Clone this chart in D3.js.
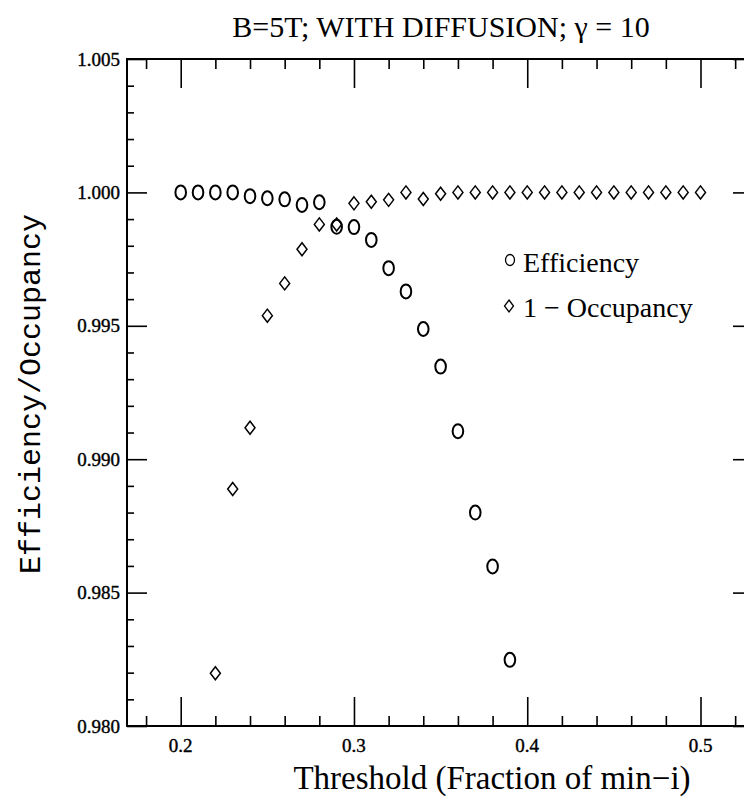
<!DOCTYPE html>
<html>
<head>
<meta charset="utf-8">
<script src="https://cdn.jsdelivr.net/npm/d3@7"></script>
<style>
  body { margin: 0; background: #fff; }
  svg { display: block; }
</style>
</head>
<body>
<div id="chart"></div>
<script>
// threshold steps (fraction of min-i)
const thresholds = [0.20, 0.21, 0.22, 0.23, 0.24, 0.25, 0.26, 0.27, 0.28, 0.29,
  0.30, 0.31, 0.32, 0.33, 0.34, 0.35, 0.36, 0.37, 0.38, 0.39,
  0.40, 0.41, 0.42, 0.43, 0.44, 0.45, 0.46, 0.47, 0.48, 0.49, 0.50]

// efficiency, measured from 0.20 to 0.39
const efficiency = [1.0000, 1.0000, 1.0000, 1.0000, 0.99986, 0.99978, 0.99974, 0.99953, 0.99963, 0.99871,
  0.99870, 0.99822, 0.99716, 0.99629, 0.99488, 0.99347, 0.99105, 0.98800, 0.98598, 0.98248]

// 1 - occupancy, measured from 0.22 to 0.50
const oneMinusOcc = [0.98198, 0.98888, 0.99118, 0.99538, 0.99659, 0.99787, 0.99880, 0.99880,
  0.99959, 0.99965, 0.99972, 1.0000, 0.99975, 0.99995, 1.0000, 1.0000, 1.0000, 1.0000, 1.0000,
  1.0000, 1.0000, 1.0000, 1.0000, 1.0000, 1.0000, 1.0000, 1.0000, 1.0000, 1.0000]

const xTickValues = [0.2, 0.3, 0.4, 0.5]
const yTickValues = [0.980, 0.985, 0.990, 0.995, 1.000, 1.005]

const title = 'B=5T; WITH DIFFUSION; \u03b3 = 10'
const xLabel = 'Threshold (Fraction of min\u2212i)'
const yLabel = 'Efficiency/Occupancy'
const legendNames = ['Efficiency', '1 \u2212 Occupancy']

const width = 744
const height = 804
const plot = { left: 127, right: 753, top: 59, bottom: 726 }

const svg = d3
  .select('#chart')
  .append('svg')
  .attr('width', width)
  .attr('height', height)

const xScale = d3.scaleLinear().domain([0.169, 0.5303]).range([plot.left, plot.right])
const yScale = d3.scaleLinear().domain([0.980, 1.005]).range([plot.bottom, plot.top])

const xMinor = d3.range(0.18, 0.53, 0.02).filter(v => Math.abs(v * 10 - Math.round(v * 10)) > 0.01)
const yMinor = d3.range(0.980, 1.005, 0.001).filter(v => Math.abs(v * 200 - Math.round(v * 200)) > 0.01)

function tickStyle(g) {
  g.select('.domain').remove()
  g.selectAll('line').attr('stroke', '#000').attr('stroke-width', 1.6)
  g.selectAll('text').remove()
}

// bottom + top ticks, pointing inside
svg.append('g').attr('transform', `translate(0,${plot.bottom})`)
  .call(d3.axisBottom(xScale).tickValues(xTickValues).tickSize(-29)).call(tickStyle)
svg.append('g').attr('transform', `translate(0,${plot.bottom})`)
  .call(d3.axisBottom(xScale).tickValues(xMinor).tickSize(-10)).call(tickStyle)
svg.append('g').attr('transform', `translate(0,${plot.top})`)
  .call(d3.axisTop(xScale).tickValues(xTickValues).tickSize(-29)).call(tickStyle)
svg.append('g').attr('transform', `translate(0,${plot.top})`)
  .call(d3.axisTop(xScale).tickValues(xMinor).tickSize(-10)).call(tickStyle)

// left + right ticks
svg.append('g').attr('transform', `translate(${plot.left},0)`)
  .call(d3.axisLeft(yScale).tickValues(yTickValues).tickSize(-20)).call(tickStyle)
svg.append('g').attr('transform', `translate(${plot.left},0)`)
  .call(d3.axisLeft(yScale).tickValues(yMinor).tickSize(-7)).call(tickStyle)
svg.append('g').attr('transform', `translate(${plot.right},0)`)
  .call(d3.axisRight(yScale).tickValues(yTickValues).tickSize(-20)).call(tickStyle)
svg.append('g').attr('transform', `translate(${plot.right},0)`)
  .call(d3.axisRight(yScale).tickValues(yMinor).tickSize(-7)).call(tickStyle)

// frame
svg.append('rect')
  .attr('x', plot.left)
  .attr('y', plot.top)
  .attr('width', plot.right - plot.left)
  .attr('height', plot.bottom - plot.top)
  .attr('fill', 'none')
  .attr('stroke', '#000')
  .attr('stroke-width', 2)

// tick labels
svg.selectAll('.x-label')
  .data(xTickValues)
  .enter()
  .append('text')
  .attr('x', d => xScale(d))
  .attr('y', 752)
  .attr('text-anchor', 'middle')
  .style('font-family', 'Liberation Serif')
  .style('font-size', '19px')
  .attr('stroke', '#000')
  .attr('stroke-width', 0.4)
  .text(d => d3.format('.1f')(d))

svg.selectAll('.y-label')
  .data(yTickValues)
  .enter()
  .append('text')
  .attr('x', 120)
  .attr('y', d => yScale(d))
  .attr('dy', '0.35em')
  .attr('text-anchor', 'end')
  .style('font-family', 'Liberation Serif')
  .style('font-size', '19px')
  .attr('stroke', '#000')
  .attr('stroke-width', 0.4)
  .text(d => d3.format('.3f')(d))

// titles
svg.append('text')
  .attr('x', 441)
  .attr('y', 37)
  .attr('text-anchor', 'middle')
  .style('font-family', 'Liberation Serif')
  .style('font-size', '30px')
  .text(title)

svg.append('text')
  .attr('x', 492)
  .attr('y', 789)
  .attr('text-anchor', 'middle')
  .style('font-family', 'Liberation Serif')
  .style('font-size', '33px')
  .text(xLabel)

svg.append('text')
  .attr('transform', 'translate(40,394) rotate(-90)')
  .attr('text-anchor', 'middle')
  .style('font-family', 'Liberation Mono')
  .style('font-size', '30px')
  .text(yLabel)

// data markers
const diamond = (w, h) => `M0,${-h}L${w},0L0,${h}L${-w},0Z`

svg.selectAll('.eff')
  .data(efficiency)
  .enter()
  .append('ellipse')
  .attr('cx', (d, i) => xScale(thresholds[i]))
  .attr('cy', d => yScale(d))
  .attr('rx', 5.3)
  .attr('ry', 7)
  .attr('fill', 'none')
  .attr('stroke', '#000')
  .attr('stroke-width', 2)

svg.selectAll('.occ')
  .data(oneMinusOcc)
  .enter()
  .append('path')
  .attr('transform', (d, i) => `translate(${xScale(thresholds[i + 2])},${yScale(d)})`)
  .attr('d', diamond(5, 6.5))
  .attr('fill', 'none')
  .attr('stroke', '#000')
  .attr('stroke-width', 1.5)

// legend
const legend = svg.append('g')
legend.append('ellipse')
  .attr('cx', 510)
  .attr('cy', 260)
  .attr('rx', 4.5)
  .attr('ry', 5.5)
  .attr('fill', 'none')
  .attr('stroke', '#000')
  .attr('stroke-width', 1.3)
legend.append('path')
  .attr('transform', 'translate(509,306)')
  .attr('d', diamond(4.5, 6))
  .attr('fill', 'none')
  .attr('stroke', '#000')
  .attr('stroke-width', 1.3)
legend.selectAll('text')
  .data(legendNames)
  .enter()
  .append('text')
  .attr('x', 523)
  .attr('y', (d, i) => 272 + i * 45)
  .style('font-family', 'Liberation Serif')
  .style('font-size', '28px')
  .text(d => d)
</script>
</body>
</html>
